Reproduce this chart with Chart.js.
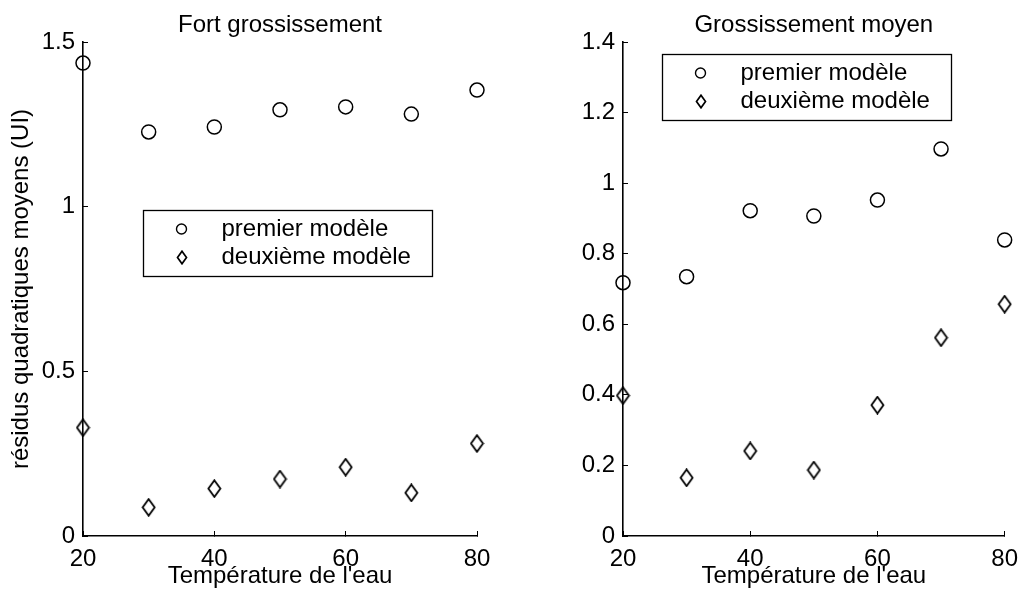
<!DOCTYPE html>
<html>
<head>
<meta charset="utf-8">
<script src="https://cdn.jsdelivr.net/npm/chart.js@4"></script>
<style>
  html, body { margin: 0; padding: 0; background: #fff; }
  #wrap { position: relative; width: 1032px; height: 591px; }
  .panel { position: absolute; top: 0; width: 516px; height: 591px; }
</style>
</head>
<body>
<div id="wrap">
  <div class="panel" style="left:0"><canvas id="fort" width="516" height="591"></canvas></div>
  <div class="panel" style="left:516px"><canvas id="moyen" width="516" height="591"></canvas></div>
</div>
<script>
// water temperature (x) shared by both panels
var temperatures = [20, 30, 40, 50, 60, 70, 80];

// "Fort grossissement"
var fortPremier  = [1.436, 1.227, 1.242, 1.294, 1.303, 1.281, 1.354];
var fortDeuxieme = [0.329, 0.087, 0.144, 0.173, 0.209, 0.131, 0.281];

// "Grossissement moyen"
var moyenPremier  = [0.718, 0.735, 0.922, 0.907, 0.952, 1.097, 0.839];
var moyenDeuxieme = [0.398, 0.165, 0.241, 0.187, 0.371, 0.562, 0.657];

var xTicks = [20, 40, 60, 80];
var yTicksFort = [0, 0.5, 1, 1.5];
var yTicksMoyen = [0, 0.2, 0.4, 0.6, 0.8, 1, 1.2, 1.4];

var seriesNames = ["premier modèle", "deuxième modèle"];
var titles = ["Fort grossissement", "Grossissement moyen"];
var xLabel = "Température de l'eau";
var yLabel = "résidus quadratiques moyens (UI)";

const FONT = '"Liberation Sans", Arial, Helvetica, sans-serif';
Chart.defaults.font.family = FONT;
Chart.defaults.font.size = 24;
Chart.defaults.color = '#000';

function diamond(w, h, lw) {
    var c = document.createElement('canvas');
    c.width = w;
    c.height = h;
    var ctx = c.getContext('2d');
    ctx.strokeStyle = '#000';
    ctx.lineWidth = lw;
    ctx.lineJoin = 'miter';
    ctx.beginPath();
    ctx.moveTo(w / 2, 1.2);
    ctx.lineTo(w - 1.5, h / 2);
    ctx.lineTo(w / 2, h - 1.2);
    ctx.lineTo(1.5, h / 2);
    ctx.closePath();
    ctx.stroke();
    return c;
}

var diamondMark = diamond(15, 19, 1.8);
var diamondSmall = diamond(12, 15, 1.7);

function toPoints(ys) {
    return temperatures.map((t, i) => ({ x: t, y: ys[i] }));
}

// matlab style boxed legend inside the axes
const boxLegend = {
    id: 'boxLegend',
    afterDraw(chart, args, opts) {
        const area = chart.chartArea;
        const ctx = chart.ctx;
        const x0 = Math.round(area.left + opts.left * area.width) + 0.5;
        const y0 = Math.round(area.top + opts.top * area.height) + 0.5;
        ctx.save();
        ctx.font = '24px ' + FONT;
        const sets = chart.data.datasets;
        let tw = Math.max(...sets.map(d => ctx.measureText(d.label).width));
        const w = Math.round(78 + tw + 22), h = 66;
        ctx.fillStyle = '#fff';
        ctx.fillRect(x0, y0, w, h);
        ctx.strokeStyle = '#000';
        ctx.lineWidth = 1.3;
        ctx.strokeRect(x0, y0, w, h);
        sets.forEach((d, i) => {
            const cy = Math.round(y0 + 18 + i * 28.5);
            if (i == 1) {
                ctx.drawImage(diamondSmall, Math.round(x0 + 38 - diamondSmall.width / 2), Math.round(cy - diamondSmall.height / 2));
            } else {
                ctx.beginPath();
                ctx.arc(x0 + 38, cy, 5, 0, 2 * Math.PI);
                ctx.lineWidth = 1.4;
                ctx.stroke();
            }
            ctx.fillStyle = '#000';
            ctx.textBaseline = 'middle';
            ctx.textAlign = 'left';
            ctx.fillText(d.label, x0 + 78, cy);
        });
        ctx.restore();
    }
};

function makeChart(id, title, premier, deuxieme, yMax, yTicks, axisWidth, rightPad, showYLabel, legendPos) {
    return new Chart(document.getElementById(id), {
        type: 'scatter',
        data: {
            datasets: [{
                label: seriesNames[0],
                data: toPoints(premier),
                pointStyle: 'circle',
                pointRadius: 7,
                pointHoverRadius: 7,
                pointBorderWidth: 1.5,
                borderColor: '#000',
                backgroundColor: 'rgba(0,0,0,0)',
                clip: false
            }, {
                label: seriesNames[1],
                data: toPoints(deuxieme),
                pointStyle: diamondMark,
                pointRadius: 8,
                borderColor: '#000',
                backgroundColor: 'rgba(0,0,0,0)',
                clip: false
            }]
        },
        options: {
            responsive: false,
            animation: false,
            devicePixelRatio: 1,
            layout: { padding: { left: 0, right: rightPad, top: 0, bottom: 0 } },
            plugins: {
                legend: { display: false },
                tooltip: { enabled: false },
                title: {
                    display: true,
                    text: title,
                    fullSize: false,
                    color: '#000',
                    font: { size: 24, weight: 'normal' },
                    padding: { top: 10.6, bottom: 2.6 }
                },
                boxLegend: legendPos
            },
            scales: {
                x: {
                    type: 'linear',
                    min: 20,
                    max: 80,
                    afterBuildTicks: (scale) => { scale.ticks = xTicks.map(v => ({ value: v })); },
                    afterFit: (scale) => { scale.height = 55; },
                    grid: { display: true, drawOnChartArea: false, drawTicks: true, tickLength: -5, color: '#000', lineWidth: 1 },
                    border: { display: true, color: '#000', width: 1.6 },
                    ticks: { padding: 14, color: '#000', font: { size: 24 }, maxRotation: 0, callback: (v) => String(v) },
                    title: { display: true, text: xLabel, color: '#000', font: { size: 24 }, padding: { top: 0, bottom: 0 } }
                },
                y: {
                    type: 'linear',
                    min: 0,
                    max: yMax,
                    afterBuildTicks: (scale) => { scale.ticks = yTicks.map(v => ({ value: v })); },
                    afterFit: (scale) => { scale.width = axisWidth; },
                    grid: { display: true, drawOnChartArea: false, drawTicks: true, tickLength: -5, color: '#000', lineWidth: 1 },
                    border: { display: true, color: '#000', width: 1.6 },
                    ticks: { padding: 13, color: '#000', font: { size: 24 }, callback: (v) => String(v) },
                    title: { display: showYLabel, text: yLabel, color: '#000', font: { size: 24 }, padding: { top: 6.5, bottom: 0 } }
                }
            }
        },
        plugins: [boxLegend]
    });
}

makeChart('fort', titles[0], fortPremier, fortDeuxieme, 1.5, yTicksFort, 83, 39, true, { left: 0.152, top: 0.340 });
makeChart('moyen', titles[1], moyenPremier, moyenDeuxieme, 1.4, yTicksMoyen, 107, 15, false, { left: 0.1015, top: 0.024 });
</script>
</body>
</html>
